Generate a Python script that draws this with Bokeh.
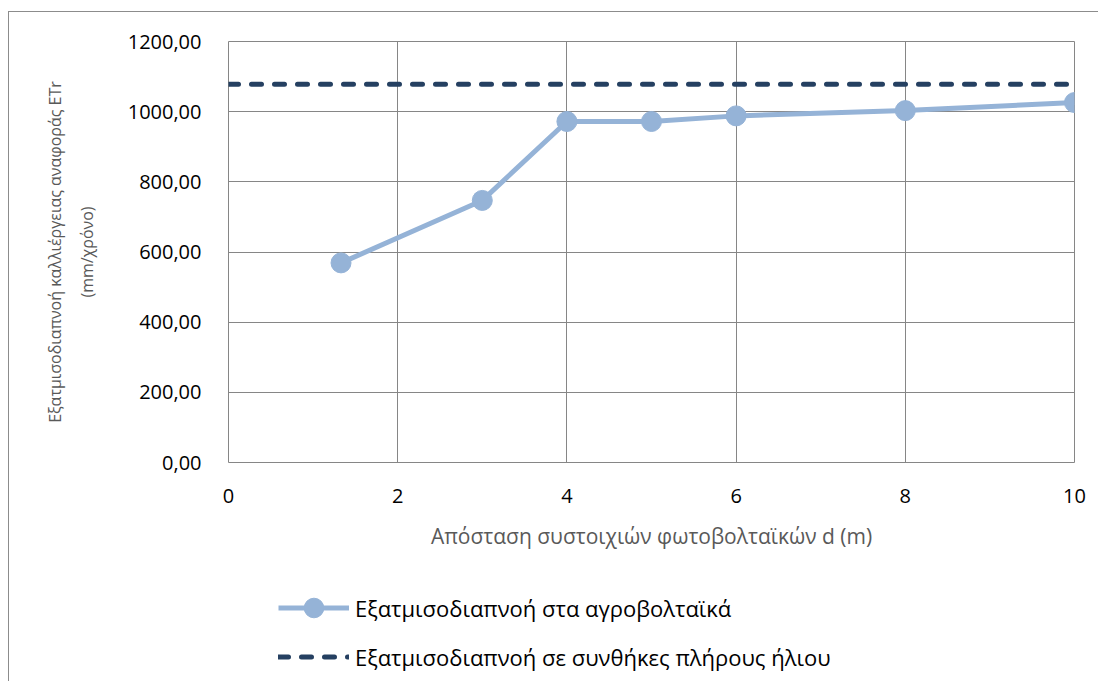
from bokeh.plotting import figure
from bokeh.models import Range1d, FixedTicker, Legend, LegendItem, Spacer
from bokeh.layouts import row, column
from bokeh.embed import file_html
from bokeh.resources import INLINE

# ---- data ----
distance_m = [1.33, 3, 4, 5, 6, 8, 10]
et_agrivoltaic = [569, 747, 972, 972, 988, 1003, 1026]
et_full_sun = 1078
full_sun_x = [0, 10]

x_ticks = [0, 2, 4, 6, 8, 10]
y_ticks = [0, 200, 400, 600, 800, 1000, 1200]
y_tick_labels = ["0,00", "200,00", "400,00", "600,00", "800,00", "1000,00", "1200,00"]

series_names = ["Εξατμισοδιαπνοή στα αγροβολταϊκά",
                "Εξατμισοδιαπνοή σε συνθήκες πλήρους ήλιου"]
x_title = "Απόσταση συστοιχιών φωτοβολταϊκών d (m)"
y_title = "Εξατμισοδιαπνοή καλλιέργειας αναφοράς ETr\n(mm/χρόνο)"

FONT = "Open Sans"
GRID = "#868686"
LIGHT = "#95B3D7"
DARK = "#254061"
BORDER = "1px solid #8c8c8c"


def add_series(fig):
    """Draw the two series on a figure; returns (line, points, dashed)."""
    dashed = fig.line(full_sun_x, [et_full_sun] * len(full_sun_x), line_color=DARK,
                      line_width=5, line_dash="10 13", line_cap="round")
    line = fig.line(distance_m, et_agrivoltaic, line_color=LIGHT, line_width=5)
    pts = fig.scatter(distance_m, et_agrivoltaic, size=20, fill_color=LIGHT,
                      line_color=LIGHT)
    return line, pts, dashed


# ---------------- main chart ----------------
p = figure(width=1090, height=555, output_backend="svg", toolbar_location=None,
           x_range=Range1d(0, 10), y_range=Range1d(0, 1200),
           min_border_left=219, min_border_right=25, min_border_top=29,
           min_border_bottom=105, background_fill_color="white",
           border_fill_color="white")

p.outline_line_color = GRID
p.outline_line_width = 1

for ax in (p.xaxis[0], p.yaxis[0]):
    ax.axis_line_color = None
    ax.major_tick_line_color = None
    ax.minor_tick_line_color = None
    ax.major_tick_out = 0
    ax.major_tick_in = 0
    ax.minor_tick_out = 0
    ax.major_label_text_font = FONT
    ax.major_label_text_font_size = "20px"
    ax.major_label_text_color = "#000000"
    ax.axis_label_text_font = FONT
    ax.axis_label_text_font_style = "normal"
    ax.axis_label_text_color = "#595959"

p.xaxis.ticker = FixedTicker(ticks=x_ticks)
p.yaxis.ticker = FixedTicker(ticks=y_ticks)
p.yaxis.major_label_overrides = {t: l for t, l in zip(y_ticks, y_tick_labels)}
p.xaxis.major_label_standoff = 26
p.yaxis.major_label_standoff = 27

p.xaxis.axis_label = x_title
p.xaxis.axis_label_text_font_size = "21px"
p.xaxis.axis_label_standoff = 16
p.yaxis.axis_label = y_title
p.yaxis.axis_label_text_font_size = "16px"
p.yaxis.axis_label_text_line_height = 1.42
p.yaxis.axis_label_standoff = 27

p.xgrid.ticker = FixedTicker(ticks=x_ticks)
p.ygrid.ticker = FixedTicker(ticks=y_ticks)
p.xgrid.grid_line_color = GRID
p.ygrid.grid_line_color = GRID
p.xgrid.grid_line_width = 1
p.ygrid.grid_line_width = 1

add_series(p)
p.styles = {"border-left": BORDER, "border-top": BORDER}

# ---------------- legend strip below the chart ----------------
# same series drawn again, but the y range is set so the marks fall outside the
# (clipped) frame: only the legend swatches are visible here.
q = figure(width=1090, height=115, output_backend="svg", toolbar_location=None,
           x_range=Range1d(0, 10), y_range=Range1d(-2000, -1000),
           x_axis_location=None, y_axis_location=None,
           min_border=0, min_border_left=0, min_border_right=0,
           min_border_top=0, min_border_bottom=0,
           background_fill_color="white", border_fill_color="white")
q.outline_line_color = None
q.grid.visible = False

k_line, k_pts, k_dash = add_series(q)

legend = Legend(items=[LegendItem(label=series_names[0], renderers=[k_line, k_pts]),
                       LegendItem(label=series_names[1], renderers=[k_dash])],
                location=(50, 0), orientation="vertical",
                glyph_width=71, glyph_height=49, label_height=49, spacing=0,
                padding=0, margin=0, label_standoff=6,
                label_text_font=FONT, label_text_font_size="22px",
                label_text_color="#000000", border_line_color=None,
                background_fill_alpha=0)
q.add_layout(legend)
q.styles = {"border-left": BORDER}

page = row(Spacer(width=8), column(Spacer(height=11), p, q, spacing=0), spacing=0)

open("out.html", "w").write(file_html(page, INLINE))
